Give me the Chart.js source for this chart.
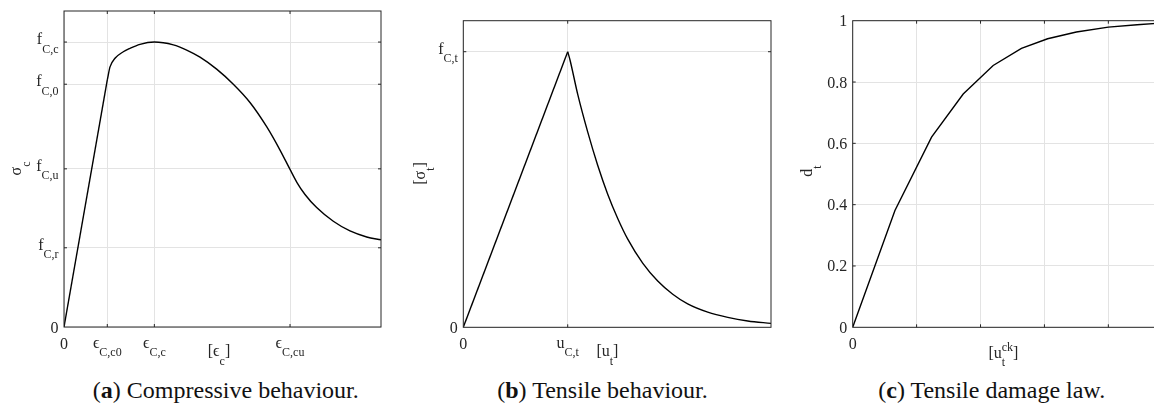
<!DOCTYPE html>
<html>
<head>
<meta charset="utf-8">
<script src="https://cdn.jsdelivr.net/npm/chart.js@4.4.1/dist/chart.umd.min.js"></script>
<style>
  html, body { margin:0; padding:0; background:#fff; width:1154px; height:409px; overflow:hidden; }
  .wrap { position:absolute; top:0; }
  .cap { position:absolute; top:378px; width:320px; text-align:center; font-family:"Liberation Serif","DejaVu Serif",serif;
         font-size:24px; line-height:24px; color:#111; white-space:nowrap; }
</style>
</head>
<body>
<div class="wrap" style="left:0px"><canvas id="ca" width="390" height="370"></canvas></div>
<div class="wrap" style="left:390px"><canvas id="cb" width="390" height="370"></canvas></div>
<div class="wrap" style="left:770px"><canvas id="cc" width="400" height="370"></canvas></div>
<div class="cap" style="left:65.8px">(<b>a</b>) Compressive behaviour.</div>
<div class="cap" style="left:442.5px">(<b>b</b>) Tensile behaviour.</div>
<div class="cap" style="left:831.7px">(<b>c</b>) Tensile damage law.</div>
<script>
// ---------------- DATA ----------------
// (a) compressive behaviour (strain in arbitrary units, stress normalised by f_C,c)
const compElasticStrain = [0, 0.956];
const compElasticStress = [0, 0.867];
const compPlasticStrain = [0.956, 1.016, 1.126, 1.309, 1.457, 1.678, 1.995, 2.414, 2.709, 3.003, 3.371, 3.739, 4.107, 4.475, 4.77, 4.991, 5.145, 5.322, 5.579, 5.947, 6.315, 6.684, 7.0];
const compPlasticStress = [0.867, 0.913, 0.943, 0.966, 0.978, 0.992, 1.0, 0.99, 0.972, 0.947, 0.905, 0.852, 0.788, 0.703, 0.621, 0.553, 0.507, 0.465, 0.419, 0.371, 0.337, 0.316, 0.306];
const compXTicks = [0, 0.956, 1.995, 4.991];
const compXTickLabels = ['0', 'ϵ_{C,c0}', 'ϵ_{C,c}', 'ϵ_{C,cu}'];
const compYTicks = [0, 0.278, 0.555, 0.852, 1];
const compYTickLabels = ['0', 'f_{C,r}', 'f_{C,u}', 'f_{C,0}', 'f_{C,c}'];
const compXMax = 7, compYMax = 1.109;

// (b) tensile behaviour (displacement normalised by u_C,t, stress by f_C,t)
const tensRiseX = [0, 1];
const tensRiseY = [0, 1];
const tensSoftX = [1, 1.022, 1.096, 1.192, 1.287, 1.383, 1.479, 1.575, 1.718, 1.862, 2.006, 2.149, 2.341, 2.533, 2.724, 2.947];
const tensSoftY = [1, 0.97, 0.845, 0.708, 0.588, 0.483, 0.395, 0.32, 0.233, 0.168, 0.12, 0.085, 0.055, 0.036, 0.023, 0.0143];
const tensXTicks = [0, 1];
const tensXTickLabels = ['0', 'u_{C,t}'];
const tensYTicks = [0, 1];
const tensYTickLabels = ['0', 'f_{C,t}'];
const tensXMax = 2.947, tensYMax = 1.1125;

// (c) tensile damage law
const dmgX = [0, 0.661, 1.234, 1.729, 2.198, 2.64, 3.05, 3.5, 4.0, 4.45, 4.81];
const dmgY = [0, 0.381, 0.62, 0.761, 0.854, 0.91, 0.941, 0.963, 0.979, 0.987, 0.992];
const dmgXTicks = [0, 1, 2, 3, 4];
const dmgXTickLabels = ['0', '', '', '', ''];
const dmgYTicks = [0, 0.2, 0.4, 0.6, 0.8, 1];
const dmgYTickLabels = ['0', '0.2', '0.4', '0.6', '0.8', '1'];
const dmgXMax = 4.81, dmgYMax = 1;

// ---------------- RENDERING ----------------
const FONT = '"Liberation Serif","DejaVu Serif",serif';
const MAIN = '16px ' + FONT, SUB = '12px ' + FONT;
const INK = '#262626';

function pts(xs, ys) { return xs.map((x, i) => ({ x, y: ys[i] })); }

function layoutRich(ctx, str) {
  const items = []; let x = 0; let i = 0;
  while (i < str.length) {
    if (str[i] === '_' || str[i] === '^') {
      const groups = {};
      while (i < str.length && (str[i] === '_' || str[i] === '^')) {
        const k = str[i]; i++;
        let t;
        if (str[i] === '{') { const j = str.indexOf('}', i); t = str.slice(i + 1, j); i = j + 1; }
        else { t = str[i]; i++; }
        groups[k] = t;
      }
      ctx.font = SUB; let w = 0;
      for (const k in groups) {
        items.push({ t: groups[k], font: SUB, x, dy: k === '_' ? 8.5 : -7 });
        w = Math.max(w, ctx.measureText(groups[k]).width);
      }
      x += w;
    } else {
      let j = i; while (j < str.length && str[j] !== '_' && str[j] !== '^') j++;
      const t = str.slice(i, j);
      ctx.font = MAIN;
      items.push({ t, font: MAIN, x, dy: 0 });
      x += ctx.measureText(t).width; i = j;
    }
  }
  return { items, width: x };
}
function drawRich(ctx, str, x0, base) {
  const L = layoutRich(ctx, str);
  ctx.fillStyle = INK; ctx.textAlign = 'left'; ctx.textBaseline = 'alphabetic';
  L.items.forEach(it => { ctx.font = it.font; ctx.fillText(it.t, x0 + it.x, base + it.dy); });
  return L.width;
}
function isRich(s) { return /[_^]/.test(s); }

function axesPlugin(cfg) {
  return {
    id: 'matlabAxes',
    afterDatasetsDraw(chart) {
      const ctx = chart.ctx, a = chart.chartArea;
      const xs = chart.scales.x, ys = chart.scales.y;
      ctx.save();
      ctx.strokeStyle = INK; ctx.lineWidth = 1;
      ctx.strokeRect(a.left, a.top, a.right - a.left, a.bottom - a.top);
      ctx.beginPath();
      cfg.xTicks.forEach(v => {
        const p = xs.getPixelForValue(v);
        if (p <= a.left + 0.5 || p >= a.right - 0.5) return;
        ctx.moveTo(p, a.bottom); ctx.lineTo(p, a.bottom - 3);
        ctx.moveTo(p, a.top); ctx.lineTo(p, a.top + 3);
      });
      cfg.yTicks.forEach(v => {
        const p = ys.getPixelForValue(v);
        if (p >= a.bottom - 0.5 || p <= a.top + 0.5) return;
        ctx.moveTo(a.left, p); ctx.lineTo(a.left + 3, p);
        ctx.moveTo(a.right, p); ctx.lineTo(a.right - 3, p);
      });
      ctx.stroke();
      cfg.yTicks.forEach((v, i) => {
        const s = cfg.yLabels[i]; if (!s) return;
        const p = ys.getPixelForValue(v);
        const w = layoutRich(ctx, s).width;
        drawRich(ctx, s, a.left - 5.5 - w, p + (isRich(s) ? 2 : 5.5));
      });
      cfg.xTicks.forEach((v, i) => {
        const s = cfg.xLabels[i]; if (!s) return;
        const p = xs.getPixelForValue(v);
        const w = layoutRich(ctx, s).width;
        drawRich(ctx, s, p - w / 2, a.bottom + (isRich(s) ? 20.5 : 22));
      });
      {
        const w = layoutRich(ctx, cfg.xTitle).width;
        const cx = (a.left + a.right) / 2 + cfg.xTitleDx;
        drawRich(ctx, cfg.xTitle, cx - w / 2, a.bottom + cfg.xTitleDy);
      }
      {
        const w = layoutRich(ctx, cfg.yTitle).width;
        const cy = (a.top + a.bottom) / 2 + cfg.yTitleDy;
        ctx.translate(a.left + cfg.yTitleDx, cy);
        ctx.rotate(-Math.PI / 2);
        drawRich(ctx, cfg.yTitle, -w / 2, 5);
      }
      ctx.restore();
    }
  };
}

function makeChart(id, datasets, xMax, yMax, cfg, pad) {
  const setTicks = arr => s => { s.ticks = arr.map(v => ({ value: v })); };
  const gridOpts = { color: '#e3e3e3', lineWidth: 1, drawTicks: false };
  return new Chart(document.getElementById(id), {
    type: 'scatter',
    data: { datasets: datasets.map(d => ({
      data: d.data, showLine: true, borderColor: '#000', borderWidth: 1.4,
      pointRadius: 0, pointHoverRadius: 0, fill: false,
      tension: d.smooth ? 0.4 : 0, cubicInterpolationMode: d.smooth ? 'monotone' : 'default'
    })) },
    options: {
      responsive: false, animation: false, devicePixelRatio: 1,
      layout: { padding: pad, autoPadding: false },
      plugins: { legend: { display: false }, tooltip: { enabled: false } },
      scales: {
        x: { type: 'linear', min: 0, max: xMax, afterBuildTicks: setTicks(cfg.xTicks),
             ticks: { display: false }, grid: gridOpts, border: { display: false },
             afterFit: s => { s.height = 0; } },
        y: { type: 'linear', min: 0, max: yMax, afterBuildTicks: setTicks(cfg.yTicks),
             ticks: { display: false }, grid: gridOpts, border: { display: false },
             afterFit: s => { s.width = 0; } }
      }
    },
    plugins: [axesPlugin(cfg)]
  });
}

makeChart('ca',
  [{ data: pts(compElasticStrain, compElasticStress) }, { data: pts(compPlasticStrain, compPlasticStress), smooth: true }],
  compXMax, compYMax,
  { xTicks: compXTicks, xLabels: compXTickLabels, yTicks: compYTicks, yLabels: compYTickLabels,
    xTitle: '[ϵ_c]', xTitleDx: -3.5, xTitleDy: 29, yTitle: 'σ_c', yTitleDx: -48, yTitleDy: -0.5 },
  { left: 64, top: 11, right: 9, bottom: 43 });

makeChart('cb',
  [{ data: pts(tensRiseX, tensRiseY) }, { data: pts(tensSoftX, tensSoftY), smooth: true }],
  tensXMax, tensYMax,
  { xTicks: tensXTicks, xLabels: tensXTickLabels, yTicks: tensYTicks, yLabels: tensYTickLabels,
    xTitle: '[u_t]', xTitleDx: -9.7, xTitleDy: 28.7, yTitle: '[σ_t]', yTitleDx: -43, yTitleDy: -0.5 },
  { left: 73.3, top: 20.7, right: 9, bottom: 42.7 });

makeChart('cc',
  [{ data: pts(dmgX, dmgY) }],
  dmgXMax, dmgYMax,
  { xTicks: dmgXTicks, xLabels: dmgXTickLabels, yTicks: dmgYTicks, yLabels: dmgYTickLabels,
    xTitle: '[u_t^{ck}]', xTitleDx: -3, xTitleDy: 30.5, yTitle: 'd_t', yTitleDx: -45.7, yTitleDy: -3 },
  { left: 82.7, top: 20.7, right: 9.9, bottom: 42.7 });
</script>
</body>
</html>
